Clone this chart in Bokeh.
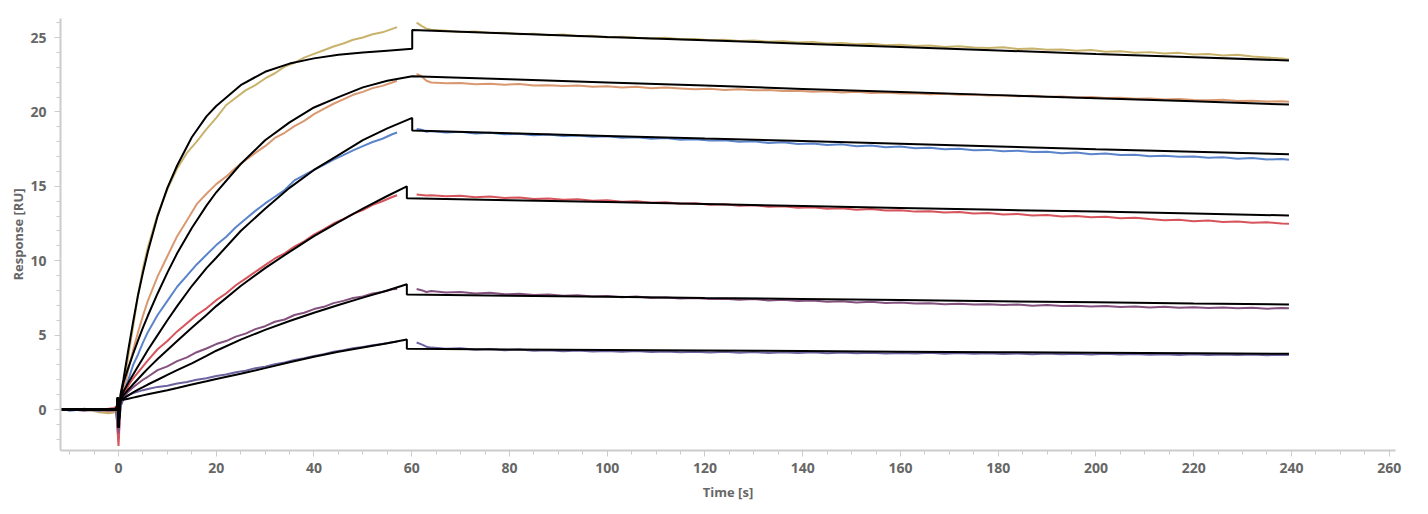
from bokeh.plotting import figure
from bokeh.models import Range1d, SingleIntervalTicker
from bokeh.embed import file_html
from bokeh.resources import INLINE

# ---------------- data ----------------
# measured curves: baseline + association (time grid t_assoc), dissociation (time grid t_dissoc)
t_assoc = [-12, -11, -10, -9, -8, -7, -6, -5, -4, -3, -2, -1, -0.5, 0, 0.4,
           1, 2, 3, 4, 5, 6, 8, 10, 12, 14, 16, 18, 20, 22, 24, 26, 28, 30,
           32, 34, 36, 38, 40, 42, 44, 46, 48, 50, 52, 54, 56, 57]

gold_assoc = [0.02, -0.03, 0.01, 0.04, -0.02, 0.0, -0.05, -0.1, -0.18, -0.22, -0.25, -0.2, -0.15, -0.6, 0.3,
              1.3, 3.6, 5.6, 7.7, 9.5, 10.9, 13.1, 14.8, 16.2, 17.25, 18.0, 18.85, 19.6, 20.45, 20.95, 21.45, 21.8, 22.25,
              22.6, 23.05, 23.3, 23.65, 23.9, 24.15, 24.4, 24.6, 24.85, 25.0, 25.22, 25.35, 25.58, 25.7]
orange_assoc = [0.0, 0.03, -0.02, 0.01, 0.04, -0.03, 0.0, -0.06, -0.1, -0.12, -0.15, -0.1, -0.05, -1.0, 0.3,
                1.2, 2.7, 4.0, 5.2, 6.3, 7.3, 8.95, 10.3, 11.65, 12.7, 13.8, 14.5, 15.15, 15.65, 16.25, 16.75, 17.25, 17.7,
                18.25, 18.6, 19.05, 19.4, 19.85, 20.2, 20.55, 20.85, 21.15, 21.35, 21.6, 21.75, 21.98, 22.1]
blue_assoc = [-0.03, 0.0, -0.08, -0.05, 0.02, 0.0, -0.03, -0.05, -0.08, -0.05, -0.03, -0.05, 0.0, -2.0, 0.2,
              1.0, 2.0, 3.0, 3.7, 4.5, 5.2, 6.35, 7.3, 8.25, 9.0, 9.75, 10.4, 11.05, 11.6, 12.25, 12.8, 13.35, 13.85,
              14.3, 14.75, 15.4, 15.75, 16.1, 16.45, 16.8, 17.1, 17.42, 17.7, 17.98, 18.2, 18.5, 18.62]
red_assoc = [0.02, 0.0, 0.03, -0.02, 0.0, 0.05, 0.0, -0.03, 0.02, 0.0, 0.05, 0.1, 0.15, -2.45, 0.3,
             0.9, 1.6, 2.1, 2.5, 2.9, 3.3, 4.05, 4.6, 5.25, 5.8, 6.35, 6.8, 7.35, 7.8, 8.35, 8.8, 9.25, 9.7,
             10.15, 10.5, 10.95, 11.3, 11.75, 12.1, 12.5, 12.8, 13.15, 13.4, 13.75, 14.0, 14.28, 14.4]
purple_assoc = [0.0, -0.02, 0.02, 0.0, -0.05, -0.08, -0.05, -0.02, 0.0, -0.03, -0.06, -0.05, 0.0, -1.6, 0.2,
                0.8, 1.2, 1.5, 1.75, 2.0, 2.2, 2.65, 2.9, 3.25, 3.5, 3.85, 4.1, 4.4, 4.6, 4.9, 5.1, 5.4, 5.6,
                5.9, 6.05, 6.35, 6.5, 6.75, 6.9, 7.15, 7.3, 7.5, 7.6, 7.8, 7.9, 8.08, 8.1]
navy_assoc = [0.0, 0.02, -0.03, 0.0, 0.02, 0.0, -0.02, 0.03, 0.0, -0.02, 0.0, -0.03, 0.0, -1.2, 0.2,
              0.7, 0.95, 1.1, 1.2, 1.3, 1.38, 1.52, 1.6, 1.75, 1.85, 2.0, 2.1, 2.25, 2.35, 2.5, 2.6, 2.78, 2.88,
              3.05, 3.16, 3.33, 3.44, 3.6, 3.72, 3.88, 3.98, 4.12, 4.2, 4.32, 4.4, 4.52, 4.55]

t_dissoc = [61, 62, 63, 64, 67, 70, 73, 76, 79, 82, 85, 88, 91, 94, 97, 100, 103, 106, 109, 112,
            115, 118, 121, 124, 127, 130, 133, 136, 139, 142, 145, 148, 151, 154, 157, 160, 163, 166,
            169, 172, 175, 178, 181, 184, 187, 190, 193, 196, 199, 202, 205, 208, 211, 214, 217, 220,
            223, 226, 229, 232, 235, 238, 239.5]

gold_dissoc = [26.0, 25.78, 25.6, 25.52, 25.45, 25.38, 25.4, 25.3, 25.33, 25.22, 25.26, 25.15, 25.2, 25.08,
               25.12, 25.0, 25.06, 24.98, 24.93, 24.99, 24.88, 24.9, 24.82, 24.86, 24.76, 24.8, 24.72, 24.75,
               24.66, 24.7, 24.6, 24.63, 24.55, 24.58, 24.48, 24.52, 24.43, 24.47, 24.36, 24.41, 24.33, 24.3,
               24.34, 24.23, 24.27, 24.18, 24.2, 24.11, 24.16, 24.05, 24.08, 23.98, 24.02, 23.93, 23.97, 23.86,
               23.9, 23.79, 23.84, 23.72, 23.66, 23.6, 23.52]
orange_dissoc = [22.55, 22.4, 22.1, 21.98, 21.92, 21.95, 21.86, 21.9, 21.83, 21.87, 21.78, 21.8, 21.74, 21.78,
                 21.7, 21.72, 21.65, 21.69, 21.6, 21.64, 21.58, 21.52, 21.56, 21.48, 21.52, 21.45, 21.47, 21.4,
                 21.42, 21.36, 21.39, 21.31, 21.35, 21.27, 21.3, 21.24, 21.26, 21.19, 21.22, 21.15, 21.18, 21.1,
                 21.12, 21.06, 21.09, 21.01, 21.04, 20.97, 21.0, 20.93, 20.95, 20.88, 20.91, 20.84, 20.87, 20.8,
                 20.78, 20.82, 20.74, 20.76, 20.7, 20.72, 20.68]
blue_dissoc = [18.85, 18.8, 18.66, 18.72, 18.62, 18.66, 18.55, 18.6, 18.5, 18.53, 18.44, 18.48, 18.38, 18.42,
               18.33, 18.36, 18.27, 18.3, 18.2, 18.24, 18.13, 18.17, 18.08, 18.1, 17.99, 18.03, 17.92, 17.96,
               17.85, 17.88, 17.78, 17.82, 17.7, 17.74, 17.63, 17.67, 17.56, 17.6, 17.5, 17.52, 17.42, 17.45,
               17.35, 17.39, 17.3, 17.32, 17.23, 17.27, 17.16, 17.2, 17.1, 17.13, 17.02, 17.06, 16.98, 17.0,
               16.92, 16.95, 16.86, 16.9, 16.8, 16.84, 16.78]
red_dissoc = [14.45, 14.42, 14.38, 14.4, 14.33, 14.36, 14.27, 14.31, 14.22, 14.25, 14.15, 14.19, 14.1, 14.13,
              14.03, 14.06, 13.97, 14.0, 13.9, 13.93, 13.83, 13.86, 13.76, 13.79, 13.7, 13.73, 13.63, 13.66,
              13.56, 13.6, 13.5, 13.53, 13.43, 13.47, 13.37, 13.4, 13.3, 13.33, 13.24, 13.27, 13.17, 13.2,
              13.1, 13.14, 13.04, 13.07, 12.98, 13.01, 12.92, 12.95, 12.86, 12.89, 12.8, 12.72, 12.76, 12.66,
              12.7, 12.6, 12.64, 12.55, 12.58, 12.5, 12.48]
purple_dissoc = [8.1, 8.02, 7.9, 7.96, 7.86, 7.9, 7.8, 7.84, 7.74, 7.78, 7.7, 7.73, 7.64, 7.68, 7.6, 7.63,
                 7.55, 7.59, 7.5, 7.53, 7.46, 7.5, 7.42, 7.45, 7.38, 7.42, 7.33, 7.37, 7.29, 7.33, 7.25, 7.28,
                 7.2, 7.24, 7.16, 7.2, 7.12, 7.15, 7.08, 7.11, 7.05, 7.08, 7.02, 7.05, 6.98, 7.02, 6.95, 6.98,
                 6.92, 6.95, 6.89, 6.92, 6.86, 6.9, 6.84, 6.87, 6.82, 6.86, 6.8, 6.84, 6.78, 6.82, 6.8]
navy_dissoc = [4.5, 4.38, 4.22, 4.16, 4.08, 4.12, 4.02, 4.06, 3.98, 4.03, 3.95, 3.99, 3.92, 3.97, 3.9, 3.94,
               3.88, 3.93, 3.86, 3.9, 3.85, 3.89, 3.83, 3.88, 3.82, 3.86, 3.8, 3.85, 3.8, 3.84, 3.78, 3.83,
               3.78, 3.82, 3.76, 3.8, 3.76, 3.81, 3.75, 3.79, 3.74, 3.78, 3.73, 3.77, 3.72, 3.76, 3.71, 3.75,
               3.7, 3.74, 3.7, 3.73, 3.68, 3.72, 3.67, 3.71, 3.66, 3.7, 3.66, 3.69, 3.65, 3.68, 3.66]

# fitted curves (black)
t_fit_hi = [-12, -0.4, -0.15, 0, 0.4, 1, 2, 3, 4, 5, 6, 8, 10, 12, 15, 18, 20, 25, 30, 35, 40, 45, 50, 55,
            60.1, 60.1, 80, 100, 120, 140, 160, 180, 200, 220, 239.5]
t_fit_lo = [-12, -0.4, -0.15, 0, 0.4, 1, 2, 3, 4, 5, 6, 8, 10, 12, 15, 18, 20, 25, 30, 35, 40, 45, 50, 55,
            59.0, 59.0, 80, 100, 120, 140, 160, 180, 200, 220, 239.5]

fit_gold = [0, 0, 0.8, -1.2, 1.0, 2.0, 4.0, 5.9, 7.7, 9.2, 10.6, 13.0, 14.9, 16.4, 18.3, 19.7, 20.4, 21.8,
            22.7, 23.25, 23.6, 23.85, 24.0, 24.12, 24.24, 25.5, 25.27, 25.04, 24.82, 24.59, 24.36, 24.13,
            23.9, 23.68, 23.46]
fit_orange = [0, 0, 0.8, -1.2, 0.8, 1.8, 2.8, 3.75, 4.65, 5.5, 6.3, 7.8, 9.2, 10.5, 12.2, 13.7, 14.6, 16.5,
              18.1, 19.3, 20.3, 21.0, 21.65, 22.1, 22.4, 22.4, 22.19, 21.98, 21.77, 21.55, 21.34, 21.13,
              20.92, 20.71, 20.5]
fit_blue = [0, 0, 0.8, -1.2, 0.7, 1.2, 1.8, 2.35, 2.9, 3.45, 4.0, 5.0, 6.0, 6.95, 8.3, 9.5, 10.2, 12.0,
            13.5, 14.9, 16.1, 17.1, 18.1, 18.9, 19.6, 18.75, 18.57, 18.39, 18.21, 18.04, 17.86, 17.68,
            17.5, 17.33, 17.15]
fit_red = [0, 0, 0.8, -1.2, 0.7, 0.95, 1.33, 1.7, 2.05, 2.4, 2.75, 3.4, 4.0, 4.6, 5.5, 6.35, 6.95, 8.3,
           9.5, 10.6, 11.65, 12.6, 13.5, 14.35, 15.0, 14.2, 14.07, 13.94, 13.81, 13.68, 13.55, 13.42,
           13.3, 13.17, 13.04]
fit_purple = [0, 0, 0.8, -1.2, 0.7, 0.75, 0.95, 1.15, 1.33, 1.5, 1.68, 2.0, 2.33, 2.65, 3.1, 3.6, 3.95,
              4.7, 5.35, 5.95, 6.5, 7.02, 7.52, 8.0, 8.42, 7.73, 7.65, 7.58, 7.5, 7.43, 7.36, 7.28, 7.21,
              7.13, 7.06]
fit_navy = [0, 0, 0.8, -1.2, 0.65, 0.65, 0.72, 0.8, 0.88, 0.95, 1.02, 1.16, 1.3, 1.45, 1.68, 1.9, 2.05,
            2.4, 2.78, 3.18, 3.55, 3.88, 4.17, 4.45, 4.7, 4.08, 4.04, 4.0, 3.96, 3.93, 3.89, 3.85, 3.81,
            3.78, 3.74]

series_colors = ["#c9b36c", "#d9986f", "#5b84cb", "#d6545b", "#84517e", "#6b64a0"]

# ---------------- figure ----------------
p = figure(width=1420, height=506, output_backend="svg", toolbar_location=None,
           x_range=Range1d(-11.87, 261.3), y_range=Range1d(-2.755, 26.28))
p.min_border_left = 60
p.min_border_right = 25
p.min_border_top = 18
p.min_border_bottom = 56
p.outline_line_color = None
p.xgrid.visible = False
p.ygrid.visible = False
p.background_fill_color = "white"
p.border_fill_color = "white"

assoc = [gold_assoc, orange_assoc, blue_assoc, red_assoc, purple_assoc, navy_assoc]
dissoc = [gold_dissoc, orange_dissoc, blue_dissoc, red_dissoc, purple_dissoc, navy_dissoc]
for ya, yd, c in zip(assoc, dissoc, series_colors):
    p.line(t_assoc, ya, line_color=c, line_width=2)
    p.line(t_dissoc, yd, line_color=c, line_width=2)

for tf, yf in [(t_fit_hi, fit_gold), (t_fit_hi, fit_orange), (t_fit_hi, fit_blue),
               (t_fit_lo, fit_red), (t_fit_lo, fit_purple), (t_fit_lo, fit_navy)]:
    p.line(tf, yf, line_color="black", line_width=2)

p.xaxis.ticker = SingleIntervalTicker(interval=20, num_minor_ticks=4)
p.yaxis.ticker = SingleIntervalTicker(interval=5, num_minor_ticks=5)
p.xaxis.axis_label = "Time [s]"
p.yaxis.axis_label = "Response [RU]"

for ax in (p.xaxis, p.yaxis):
    ax.axis_line_color = "#cccccc"
    ax.axis_line_width = 2
    ax.major_tick_line_color = "#cccccc"
    ax.minor_tick_line_color = "#cccccc"
    ax.major_tick_line_width = 1
    ax.minor_tick_line_width = 1
    ax.major_tick_in = 0
    ax.minor_tick_in = 0
    ax.major_tick_out = 6
    ax.minor_tick_out = 4
    ax.major_label_text_font = "Open Sans"
    ax.major_label_text_font_style = "bold"
    ax.major_label_text_font_size = "14px"
    ax.major_label_text_color = "#666666"
    ax.axis_label_text_font = "Open Sans"
    ax.axis_label_text_font_style = "bold"
    ax.axis_label_text_font_size = "13px"
    ax.axis_label_text_color = "#666666"

p.xaxis.major_label_standoff = 6
p.yaxis.major_label_standoff = 8
p.xaxis.axis_label_standoff = 7
p.yaxis.axis_label_standoff = 0

open("out.html", "w").write(file_html(p, INLINE))
